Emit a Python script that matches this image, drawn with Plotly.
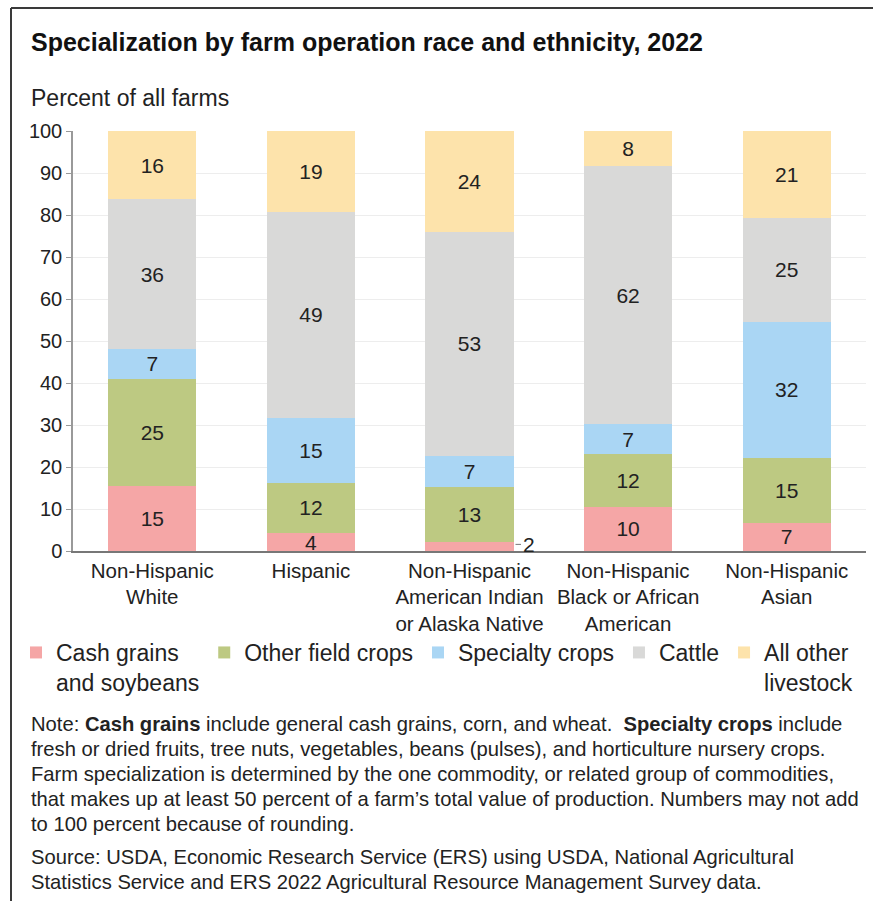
import plotly.graph_objects as go

categories = [
    "Non-Hispanic<br>White",
    "Hispanic",
    "Non-Hispanic<br>American Indian<br>or Alaska Native",
    "Non-Hispanic<br>Black or African<br>American",
    "Non-Hispanic<br>Asian",
]
series_names = ["Cash grains<br>and soybeans", "Other field crops", "Specialty crops", "Cattle", "All other<br>livestock"]
colors = ["#F5A6A6", "#BDC982", "#AAD6F4", "#D9D9D8", "#FDE3AB"]

# estimated segment heights (percent)
cash_grains = [15.5, 4.2, 2.2, 10.5, 6.7]
other_field = [25.5, 12.1, 13.0, 12.5, 15.4]
specialty = [7.1, 15.4, 7.5, 7.2, 32.5]
cattle = [35.6, 49.1, 53.3, 61.5, 24.8]
other_livestock = [16.3, 19.2, 24.0, 8.3, 20.6]

# published (rounded) labels
cash_labels = ["15", "4", "", "10", "7"]
other_labels = ["25", "12", "13", "12", "15"]
spec_labels = ["7", "15", "7", "7", "32"]
cattle_labels = ["36", "49", "53", "62", "25"]
livestock_labels = ["16", "19", "24", "8", "21"]
outside_label = "2"  # cash grains, Non-Hispanic American Indian or Alaska Native

yticks = [0, 10, 20, 30, 40, 50, 60, 70, 80, 90, 100]

note_lines = [
    "Note: <b>Cash grains</b> include general cash grains, corn, and wheat.  <b>Specialty crops</b> include",
    "fresh or dried fruits, tree nuts, vegetables, beans (pulses), and horticulture nursery crops.",
    "Farm specialization is determined by the one commodity, or related group of commodities,",
    "that makes up at least 50 percent of a farm’s total value of production. Numbers may not add",
    "to 100 percent because of rounding.",
]
source_lines = [
    "Source: USDA, Economic Research Service (ERS) using USDA, National Agricultural",
    "Statistics Service and ERS 2022 Agricultural Resource Management Survey data.",
]

values = [cash_grains, other_field, specialty, cattle, other_livestock]
labels = [cash_labels, other_labels, spec_labels, cattle_labels, livestock_labels]

FONT = "Liberation Sans, Arial, sans-serif"
TXT = "#222222"

fig = go.Figure()
for name, vals, labs, col in zip(series_names, values, labels, colors):
    fig.add_trace(go.Bar(
        x=categories, y=vals, name=name, marker=dict(color=col, line=dict(width=0)),
        text=labs, textposition="inside", insidetextanchor="middle", textangle=0,
        textfont=dict(family=FONT, size=21, color=TXT), hoverinfo="skip",
    ))

# outside label for the tiny segment
fig.add_annotation(
    x=categories[2], y=cash_grains[2] / 2, xref="x", yref="y", text=outside_label,
    showarrow=True, arrowhead=0, arrowwidth=1, arrowcolor="#777", ax=14, ay=0,
    standoff=1, xshift=45, yshift=2, font=dict(family=FONT, size=21, color=TXT),
)

L, R, T, B = 73, 7, 131, 350
W, H = 873, 901
pw, ph = W - L - R, H - T - B


def px(x):
    return (x - L) / pw


def py(y):
    return (H - B - y) / ph


fig.update_layout(
    width=W, height=H, margin=dict(l=L, r=R, t=T, b=B, autoexpand=False),
    paper_bgcolor="white", plot_bgcolor="white",
    barmode="stack", bargap=0.445,
    showlegend=True,
    uniformtext=dict(minsize=21, mode="show"),
    font=dict(family=FONT, color=TXT),
    xaxis=dict(
        showgrid=False, showline=True, linecolor="#777", linewidth=2,
        ticks="", tickfont=dict(family=FONT, size=20.5, color=TXT), fixedrange=True,
    ),
    yaxis=dict(
        range=[0, 100], tickvals=yticks, showgrid=True, gridcolor="#EDEDED", gridwidth=1,
        showline=True, linecolor="#999", linewidth=1.5, ticks="outside", ticklen=5,
        tickcolor="#999", tickfont=dict(family=FONT, size=20, color=TXT), zeroline=False,
        fixedrange=True,
    ),
    legend=dict(
        orientation="h", x=px(16), y=py(631),
        xanchor="left", yanchor="top",
        font=dict(family=FONT, size=23, color=TXT), traceorder="normal", valign="top",
        itemclick=False, itemdoubleclick=False,
    ),
)

# title and axis label
fig.add_annotation(
    text="<b>Specialization by farm operation race and ethnicity, 2022</b>",
    xref="paper", yref="paper", x=px(29), y=py(42), xanchor="left", yanchor="middle",
    showarrow=False, font=dict(family=FONT, size=25, color="#111"),
)
fig.add_annotation(
    text="Percent of all farms", xref="paper", yref="paper", x=px(29), y=py(98),
    xanchor="left", yanchor="middle", showarrow=False, font=dict(family=FONT, size=23, color=TXT),
)

for i, line in enumerate(note_lines):
    fig.add_annotation(
        text=line, xref="paper", yref="paper", x=px(29), y=py(724 + 25 * i), xanchor="left",
        yanchor="middle", align="left", showarrow=False, font=dict(family=FONT, size=20.2, color=TXT),
    )
for i, line in enumerate(source_lines):
    fig.add_annotation(
        text=line, xref="paper", yref="paper", x=px(29), y=py(857 + 25 * i), xanchor="left",
        yanchor="middle", align="left", showarrow=False, font=dict(family=FONT, size=20.2, color=TXT),
    )

# outer frame (top and left edges visible)
fig.add_shape(type="line", xref="paper", yref="paper", x0=px(11), x1=px(11), y0=py(920), y1=py(8),
              line=dict(color="#3a3a3a", width=2))
fig.add_shape(type="line", xref="paper", yref="paper", x0=px(11), x1=px(880), y0=py(8), y1=py(8),
              line=dict(color="#3a3a3a", width=2))

fig.write_html("out.html")
